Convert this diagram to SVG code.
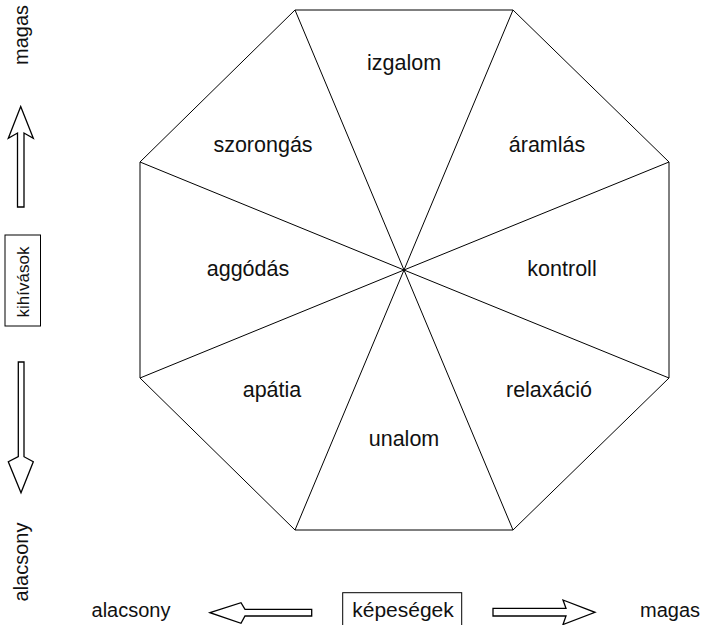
<svg xmlns="http://www.w3.org/2000/svg" width="702" height="625" viewBox="0 0 702 625">
<style>
.ln{stroke:#000;stroke-width:1;fill:none}
.ar{stroke:#000;stroke-width:1.3;fill:#fff;stroke-linejoin:miter}
.t{font-family:"Liberation Sans",Arial,sans-serif;font-size:21.5px;fill:#111;text-anchor:middle}
.s{font-family:"Liberation Sans",Arial,sans-serif;font-size:20px;fill:#111;text-anchor:middle}
.bx{stroke:#000;stroke-width:1;fill:#fff}
</style>
<rect width="702" height="625" fill="#fff"/>
<g id="connectors">
<polygon class="ln" points="295,10 513,10 669,162 669,378 513,530 295,530 140,378 140,162"/>
<line class="ln" x1="404" y1="270" x2="295" y2="10"/>
<line class="ln" x1="404" y1="270" x2="513" y2="10"/>
<line class="ln" x1="404" y1="270" x2="669" y2="162"/>
<line class="ln" x1="404" y1="270" x2="669" y2="378"/>
<line class="ln" x1="404" y1="270" x2="513" y2="530"/>
<line class="ln" x1="404" y1="270" x2="295" y2="530"/>
<line class="ln" x1="404" y1="270" x2="140" y2="378"/>
<line class="ln" x1="404" y1="270" x2="140" y2="162"/>
</g>
<g id="izgalom"><text class="t" x="404" y="70">izgalom</text></g>
<g id="szorongas"><text class="t" x="263" y="152">szorongás</text></g>
<g id="aramlas"><text class="t" x="547" y="152">áramlás</text></g>
<g id="aggodas"><text class="t" x="248" y="276">aggódás</text></g>
<g id="kontroll"><text class="t" x="562" y="276">kontroll</text></g>
<g id="apatia"><text class="t" x="272" y="397">apátia</text></g>
<g id="relaxacio"><text class="t" x="549" y="397">relaxáció</text></g>
<g id="unalom"><text class="t" x="404" y="446">unalom</text></g>
<g id="axis-y">
<text class="s" transform="translate(28,35) rotate(-90)">magas</text>
<polygon class="ar" points="20.7,106.5 33.3,138.3 24,133 24,207 17.5,207 17.5,133 8.3,138.3"/>
<rect class="bx" x="5" y="235" width="35.5" height="91"/>
<text class="s" style="font-size:17px" transform="translate(29,282) rotate(-90)">kihívások</text>
<polygon class="ar" points="18.3,362 24,362 24,456.7 33.3,461.7 21,492.7 8.3,461.7 18.3,456.7"/>
<text class="s" transform="translate(28,562) rotate(-90)">alacsony</text>
</g>
<g id="axis-x">
<text class="s" x="131" y="617">alacsony</text>
<polygon class="ar" points="210,612.7 241,602.7 245,609.3 311.7,609.3 311.7,616 245,616 241,623.3"/>
<rect class="bx" x="342.7" y="592.7" width="119" height="40"/>
<text class="s" style="font-size:21px" x="403" y="617">képeségek</text>
<polygon class="ar" points="493,608.3 566,608.3 563,600 595,612.3 563,624.5 566,616 493,616"/>
<text class="s" x="670" y="617">magas</text>
</g>
</svg>
